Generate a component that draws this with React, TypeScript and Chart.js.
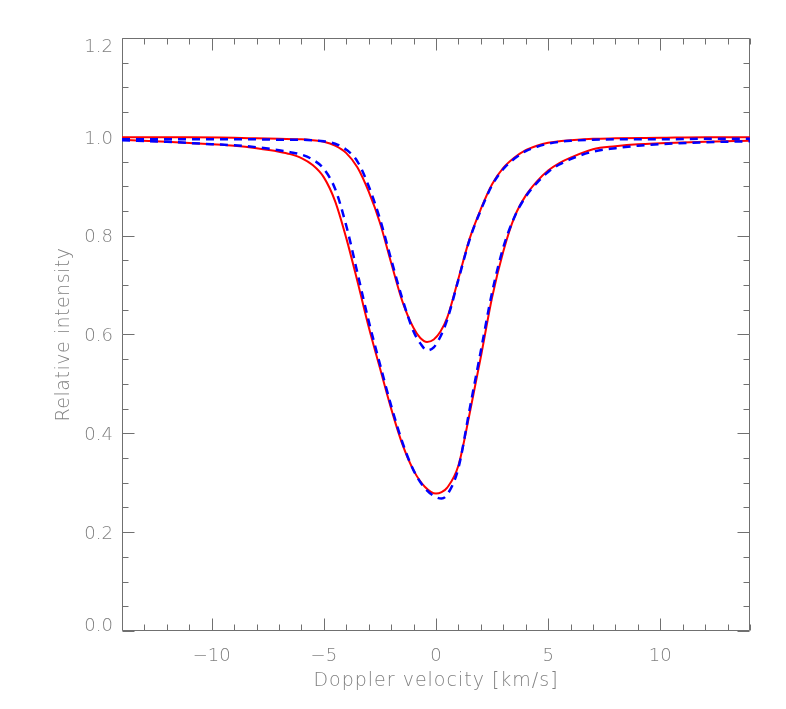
import { useEffect, useRef } from "react";
import { Chart, registerables } from "chart.js";

Chart.register(...registerables);

// ---- data ----
const narrowX = [-14, -11, -9, -8, -7, -6, -5.5, -5, -4.5, -4, -3.5, -3, -2.5, -2, -1.5, -1, -0.7, -0.4, -0.1, 0.2, 0.5, 1, 1.5, 2, 2.5, 3, 3.5, 4, 4.5, 5, 5.5, 6, 7, 8, 10, 12, 14];
const narrowRed = [0.999, 0.999, 0.998, 0.997, 0.996, 0.995, 0.993, 0.990, 0.982, 0.967, 0.938, 0.889, 0.826, 0.745, 0.667, 0.613, 0.593, 0.585, 0.590, 0.606, 0.634, 0.713, 0.794, 0.854, 0.904, 0.937, 0.958, 0.973, 0.982, 0.988, 0.991, 0.993, 0.996, 0.997, 0.998, 0.999, 0.999];
const narrowBlue = [0.995, 0.995, 0.995, 0.995, 0.994, 0.994, 0.993, 0.991, 0.986, 0.974, 0.950, 0.900, 0.834, 0.752, 0.672, 0.606, 0.582, 0.568, 0.574, 0.596, 0.630, 0.711, 0.792, 0.852, 0.902, 0.935, 0.956, 0.971, 0.980, 0.986, 0.990, 0.992, 0.994, 0.995, 0.995, 0.996, 0.996];

const wideX = [-14, -12, -10, -9, -8, -7, -6.5, -6, -5.5, -5, -4.5, -4, -3.5, -3, -2.5, -2, -1.5, -1, -0.5, 0, 0.25, 0.5, 1, 1.5, 2, 2.5, 3, 3.5, 4, 4.5, 5, 5.5, 6, 7, 8, 9, 10, 12, 14];
const wideRed = [0.994, 0.990, 0.985, 0.982, 0.977, 0.970, 0.965, 0.957, 0.943, 0.918, 0.870, 0.795, 0.707, 0.615, 0.532, 0.450, 0.378, 0.325, 0.292, 0.278, 0.281, 0.290, 0.335, 0.440, 0.555, 0.675, 0.768, 0.838, 0.881, 0.910, 0.932, 0.947, 0.958, 0.975, 0.981, 0.985, 0.987, 0.990, 0.992];
const wideBlue = [0.993, 0.990, 0.985, 0.983, 0.979, 0.973, 0.969, 0.964, 0.954, 0.935, 0.895, 0.820, 0.724, 0.627, 0.540, 0.456, 0.382, 0.325, 0.289, 0.271, 0.268, 0.276, 0.330, 0.449, 0.567, 0.685, 0.776, 0.838, 0.879, 0.907, 0.929, 0.944, 0.955, 0.970, 0.977, 0.982, 0.985, 0.989, 0.991];

const X_MIN = -14;
const X_MAX = 14;
const X_MAJOR = 5;
const Y_MIN = 0;
const Y_MAX = 1.2;
const Y_MAJOR = 0.2;
const Y_MINOR = 0.05;

const X_TITLE = "Doppler velocity [km/s]";
const Y_TITLE = "Relative intensity";

const AXIS_COLOR = "#707070";
const TEXT_COLOR = "#808080";
const FONT_FAMILY = "'DejaVu Sans', sans-serif";
const TICK_FONT = `200 18px ${FONT_FAMILY}`;
const TITLE_FONT = `200 19px ${FONT_FAMILY}`;

const fmtX = (v: number) => (v < 0 ? "\u2212" + Math.abs(v) : String(v));
const fmtY = (v: number) => Number(v).toFixed(1);

const framePlugin = {
  id: "idlFrame",
  beforeDatasetsDraw(chart: any) {
    const { ctx, chartArea: a, scales } = chart;
    const xs = scales.x;
    const ys = scales.y;
    ctx.save();
    ctx.strokeStyle = AXIS_COLOR;
    ctx.lineWidth = 1;
    const L = Math.round(a.left) + 0.5;
    const R = Math.round(a.right) - 0.5;
    const T = Math.round(a.top) + 0.5;
    const B = Math.round(a.bottom) - 0.5;
    ctx.beginPath();
    ctx.rect(L, T, R - L, B - T);
    for (let v = X_MIN; v <= X_MAX; v++) {
      const len = v % X_MAJOR === 0 ? 12 : 6;
      const px = Math.round(xs.getPixelForValue(v)) + 0.5;
      ctx.moveTo(px, B);
      ctx.lineTo(px, B - len);
      ctx.moveTo(px, T);
      ctx.lineTo(px, T + len);
    }
    const nY = Math.round((Y_MAX - Y_MIN) / Y_MINOR);
    const per = Math.round(Y_MAJOR / Y_MINOR);
    for (let k = 0; k <= nY; k++) {
      const v = Y_MIN + k * Y_MINOR;
      const len = k % per === 0 ? 12 : 6;
      const py = Math.round(ys.getPixelForValue(v)) + 0.5;
      ctx.moveTo(L, py);
      ctx.lineTo(L + len, py);
      ctx.moveTo(R, py);
      ctx.lineTo(R - len, py);
    }
    ctx.stroke();

    ctx.fillStyle = TEXT_COLOR;
    ctx.textBaseline = "alphabetic";

    // y tick labels
    ctx.font = TICK_FONT;
    ctx.textAlign = "right";
    for (const t of ys.ticks) {
      let base = ys.getPixelForValue(t.value) + 6.7;
      base = Math.max(a.top + 14, Math.min(a.bottom, base));
      ctx.fillText(fmtY(t.value), a.left - 9, base);
    }
    // x tick labels
    ctx.textAlign = "center";
    for (const t of xs.ticks) {
      ctx.fillText(fmtX(Number(t.value)), xs.getPixelForValue(t.value), a.bottom + 30);
    }

    // titles
    ctx.font = TITLE_FONT;
    (ctx as any).letterSpacing = "1px";
    ctx.fillText(X_TITLE, (a.left + a.right) / 2, 686);
    (ctx as any).letterSpacing = "0.5px";
    ctx.save();
    ctx.translate(69, (a.top + a.bottom) / 2);
    ctx.rotate(-Math.PI / 2);
    ctx.fillText(Y_TITLE, 0, 0);
    ctx.restore();
    (ctx as any).letterSpacing = "0px";
    ctx.restore();
  },
};

export default function App() {
  const ref = useRef<HTMLCanvasElement | null>(null);

  useEffect(() => {
    document.body.style.margin = "0";
    const canvas = ref.current;
    if (!canvas) return;
    const pts = (xs: number[], ys: number[]) => xs.map((x, i) => ({ x, y: ys[i] }));
    const common = {
      pointRadius: 0,
      fill: false,
      cubicInterpolationMode: "monotone" as const,
    };
    const chart = new Chart(canvas, {
      type: "line",
      data: {
        datasets: [
          { ...common, label: "narrow model", data: pts(narrowX, narrowBlue), borderColor: "#0000ff", borderWidth: 2.5, borderDash: [8, 6] },
          { ...common, label: "wide model", data: pts(wideX, wideBlue), borderColor: "#0000ff", borderWidth: 2.5, borderDash: [8, 6] },
          { ...common, label: "narrow obs", data: pts(narrowX, narrowRed), borderColor: "#ff0000", borderWidth: 2 },
          { ...common, label: "wide obs", data: pts(wideX, wideRed), borderColor: "#ff0000", borderWidth: 2 },
        ],
      },
      options: {
        responsive: false,
        animation: false,
        devicePixelRatio: 1,
        layout: { padding: { left: 0, top: 38, right: 36, bottom: 0 } },
        plugins: { legend: { display: false }, tooltip: { enabled: false } },
        scales: {
          x: {
            type: "linear",
            min: X_MIN,
            max: X_MAX,
            grid: { display: false, drawTicks: false },
            border: { display: false },
            ticks: { stepSize: X_MAJOR, includeBounds: false, display: false },
            title: { display: false },
            afterFit: (s: any) => {
              s.height = 78;
            },
          },
          y: {
            type: "linear",
            min: Y_MIN,
            max: Y_MAX,
            grid: { display: false, drawTicks: false },
            border: { display: false },
            ticks: { stepSize: Y_MAJOR, display: false },
            title: { display: false },
            afterFit: (s: any) => {
              s.width = 122;
            },
          },
        },
      },
      plugins: [framePlugin],
    });
    return () => chart.destroy();
  }, []);

  return (
    <div style={{ width: 786, height: 709 }}>
      <canvas ref={ref} width={786} height={709} style={{ width: 786, height: 709, display: "block" }} />
    </div>
  );
}
